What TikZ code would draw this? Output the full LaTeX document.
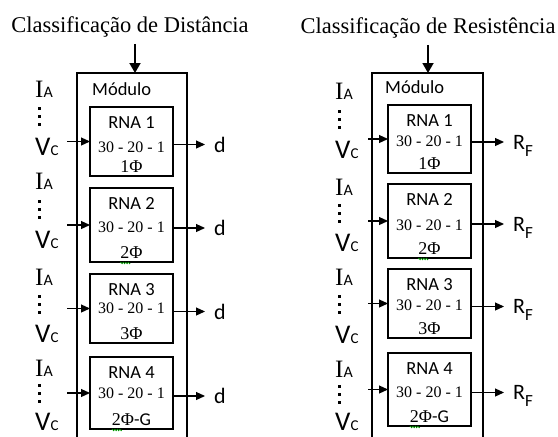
\documentclass[tikz,border=0pt]{standalone}
\usepackage{fontspec}
\setmainfont{Liberation Serif}
\newfontfamily\sansf{Carlito}
\usetikzlibrary{arrows.meta,positioning,decorations.pathmorphing}

\newcommand{\fsz}[1]{\fontsize{#1}{#1}\selectfont}
\newcommand{\IA}{{\fsz{25}I}{\sansf\fsz{16}A}}
\newcommand{\VC}{{\sansf\fsz{27}V\fsz{15}C}}
\newcommand{\RF}{{\sansf\fsz{22}R\raisebox{-7pt}[0pt][0pt]{\fsz{17}F}}}

\tikzset{
	rna/.style={draw, line width=2pt, minimum width=83pt, inner sep=0pt, outer sep=0pt, anchor=north west},
	frame/.style={line width=2pt},
	flow/.style={-{Triangle[length=9pt,width=8pt]}, line width=1.2pt},
	topflow/.style={-{Triangle[length=10pt,width=11pt]}, line width=1.8pt},
	txt/.style={inner sep=0pt, anchor=base},
	ttl/.style={txt, font=\fsz{22.5}},
	lbl/.style={inner sep=0pt, anchor=base west},
	outlbl/.style={inner sep=0pt, font=\sansf\fsz{22}},
	squig/.style={green!60!black, line width=0.6pt, decorate, decoration={zigzag, amplitude=0.8pt, segment length=2.5pt}}
}

\begin{document}
\begin{tikzpicture}[x=1pt, y=-1pt]
	\useasboundingbox (0,0) rectangle (558,437);

	% ---- Classificacao de Distancia
	\node[ttl] (lttl) at (130,32) {Classificação de Distância};
	\coordinate (ltop) at (135,73);
	\draw[frame] (77,450) |- (187,73) -- (187,450);
	\draw[topflow, shorten <=7pt] (ltop |- lttl.south) -- (ltop);
	\node[lbl, font=\sansf\fsz{18.5}] (lmod) at (92,95) {Módulo};

	\foreach \k/\ty/\h/\nb/\ph in {1/107/69/45/1Φ, 2/188/74/44/2Φ, 3/274/69/39/3Φ, 4/357/72/41/{2Φ{\sansf-G}}} {
		\node[rna, minimum height=\h pt] (l\k) at (90,\ty) {};
		\node[txt, font=\sansf\fsz{18.5}] (l\k-t) at ([yshift=-21pt]l\k.north) {RNA \k};
		\node[txt, font=\fsz{16}] (l\k-n) at ([yshift=-\nb pt]l\k.north) {30 - 20 - 1};
		\node[txt, font=\fsz{18}] (l\k-p) at ([yshift=4pt]l\k.south) {\ph};
	}

	\foreach \k/\ib/\vb in {1/97/155, 2/189/248, 3/285/342, 4/376/430} {
		\node[lbl] (l\k-i) at (35,\ib) {\IA};
		\node[lbl] (l\k-v) at (35,\vb) {\VC};
		\pgfmathsetmacro\dy{(\ib+\vb)/2-9.5}
		\foreach \d in {-8,0,8} \fill (37.5,{\dy+\d-1.5}) rectangle ++(3,3);
		\coordinate (l\k-in) at ([xshift=-23pt]l\k.west);
		\draw[flow] (l\k-in) -- (l\k.west);
		\node[outlbl, right=41pt of l\k.east, yshift=-3pt] (l\k-o) {d};
		\draw[flow] (l\k-o.west -| l\k.east) -- ([xshift=-9pt]l\k-o.west);
	}

	% ---- Classificacao de Resistencia
	\node[ttl] (rttl) at (428,33) {Classificação de Resistência};
	\coordinate (rtop) at (428,73);
	\draw[frame] (372,450) |- (483,73) -- (483,450);
	\draw[topflow, shorten <=7pt] (rtop |- rttl.south) -- (rtop);
	\node[lbl, font=\sansf\fsz{18.5}] (rmod) at (385,93) {Módulo};

	\foreach \k/\ty/\h/\nb/\ph in {1/105/68/41/1Φ, 2/184/74/46/2Φ, 3/269/69/41/3Φ, 4/353/73/44/{2Φ{\sansf-G}}} {
		\node[rna, minimum height=\h pt] (r\k) at (388,\ty) {};
		\node[txt, font=\sansf\fsz{18.5}] (r\k-t) at ([yshift=-21pt]r\k.north) {RNA \k};
		\node[txt, font=\fsz{16}] (r\k-n) at ([yshift=-\nb pt]r\k.north) {30 - 20 - 1};
		\node[txt, font=\fsz{18}] (r\k-p) at ([yshift=4pt]r\k.south) {\ph};
	}

	\foreach \k/\ib/\vb in {1/99/158, 2/195/251, 3/285/343, 4/377/430} {
		\node[lbl] (r\k-i) at (335,\ib) {\IA};
		\node[lbl] (r\k-v) at (335,\vb) {\VC};
		\pgfmathsetmacro\dy{(\ib+\vb)/2-9.5}
		\foreach \d in {-8,0,8} \fill (337.5,{\dy+\d-1.5}) rectangle ++(3,3);
		\coordinate (r\k-in) at ([xshift=-20pt]r\k.west);
		\draw[flow] (r\k-in) -- (r\k.west);
		\node[outlbl, right=42pt of r\k.east, yshift=-3pt] (r\k-o) {\RF};
		\draw[flow] (r\k-o.west -| r\k.east) -- ([xshift=-9pt]r\k-o.west);
	}

	% spell-check marks
	\foreach \n in {l2,l4,r2,r4}
		\draw[squig] ([yshift=-5pt]\n-p.base west) -- ++(10,0);
\end{tikzpicture}
\end{document}
